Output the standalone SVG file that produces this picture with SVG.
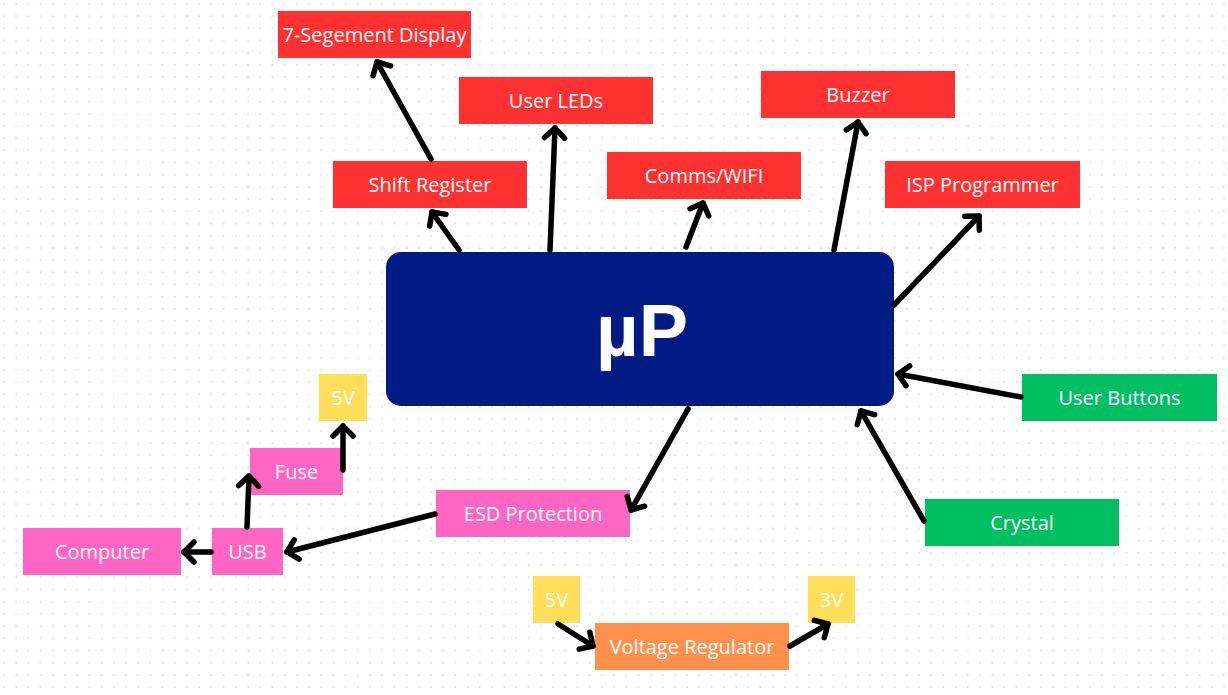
<svg xmlns="http://www.w3.org/2000/svg" width="1228" height="695" viewBox="0 0 1228 695">
<defs>
<pattern id="dots" width="12.2" height="12.2" patternUnits="userSpaceOnUse" x="3" y="3">
<circle cx="1" cy="1" r="0.9" fill="#dcdcdc"/>
</pattern>
<marker id="ah" markerUnits="userSpaceOnUse" markerWidth="30" markerHeight="30" viewBox="-15 -15 30 30" refX="0" refY="0" orient="auto" overflow="visible">
<path d="M-10,-10 L0,0 L-10,10" fill="none" stroke="#000" stroke-width="5.5" stroke-linecap="round" stroke-linejoin="round"/>
</marker>
<style>
.lbl{font-family:"Open Sans","Liberation Sans",sans-serif;font-size:20px;fill:#fff;text-anchor:middle;dominant-baseline:central}
.red{fill:#ff3131}.pink{fill:#ff66c4}.green{fill:#00bf63}.yel{fill:#ffde59}.org{fill:#ff914d}
.c{fill:none;stroke:#000;stroke-width:5.5;stroke-linecap:round;marker-end:url(#ah)}
</style>
</defs>
<rect width="1228" height="695" fill="#fff"/>
<rect width="1228" height="695" fill="url(#dots)"/>

<g id="up"><rect x="386" y="252" width="508" height="154" rx="15" fill="#001b84"/><text x="642" y="330" font-family="'Liberation Sans',Arial,sans-serif" font-weight="bold" font-size="74" fill="#fff" text-anchor="middle" dominant-baseline="central">µP</text></g>
<g id="seg"><rect class="red" x="278" y="11" width="193" height="47"/><text class="lbl" x="374.5" y="34.5">7-Segement Display</text></g>
<g id="shift"><rect class="red" x="333" y="161" width="194" height="47"/><text class="lbl" x="430" y="184.5">Shift Register</text></g>
<g id="leds"><rect class="red" x="459" y="77" width="194" height="47"/><text class="lbl" x="556" y="100.5">User LEDs</text></g>
<g id="comms"><rect class="red" x="607" y="152" width="194" height="47"/><text class="lbl" x="704" y="175.5">Comms/WIFI</text></g>
<g id="buzzer"><rect class="red" x="761" y="71" width="194" height="47"/><text class="lbl" x="858" y="94.5">Buzzer</text></g>
<g id="isp"><rect class="red" x="885" y="161" width="195" height="47"/><text class="lbl" x="982.5" y="184.5">ISP Programmer</text></g>
<g id="buttons"><rect class="green" x="1022" y="374" width="195" height="47"/><text class="lbl" x="1119.5" y="397.5">User Buttons</text></g>
<g id="crystal"><rect class="green" x="925" y="499" width="194" height="47"/><text class="lbl" x="1022" y="522.5">Crystal</text></g>
<g id="esd"><rect class="pink" x="436" y="490" width="194" height="47"/><text class="lbl" x="533" y="513.5">ESD Protection</text></g>
<g id="usb"><rect class="pink" x="212" y="528" width="71" height="47"/><text class="lbl" x="247.5" y="551.5">USB</text></g>
<g id="computer"><rect class="pink" x="23" y="528" width="158" height="47"/><text class="lbl" x="102" y="551.5">Computer</text></g>
<g id="fuse"><rect class="pink" x="250" y="448" width="93" height="47"/><text class="lbl" x="296.5" y="471.5">Fuse</text></g>
<g id="v5a"><rect class="yel" x="319" y="374" width="48" height="47"/><text class="lbl" x="343" y="397.5">5V</text></g>
<g id="v5b"><rect class="yel" x="533" y="576" width="47" height="47"/><text class="lbl" x="556.5" y="599.5">5V</text></g>
<g id="v3"><rect class="yel" x="808" y="576" width="47" height="47"/><text class="lbl" x="831.5" y="599.5">3V</text></g>
<g id="vreg"><rect class="org" x="595" y="623" width="194" height="47"/><text class="lbl" x="692" y="646.5">Voltage Regulator</text></g>

<g id="connectors">
<line class="c" x1="431" y1="159" x2="377" y2="62"/>
<line class="c" x1="459" y1="250" x2="432" y2="212"/>
<line class="c" x1="550" y1="250" x2="555" y2="128"/>
<line class="c" x1="686" y1="247" x2="703" y2="203"/>
<line class="c" x1="834" y1="250" x2="858" y2="122"/>
<line class="c" x1="894" y1="305" x2="979" y2="216"/>
<line class="c" x1="1021" y1="397" x2="898" y2="374"/>
<line class="c" x1="924" y1="521" x2="861" y2="411"/>
<line class="c" x1="688" y1="409" x2="631" y2="510"/>
<line class="c" x1="435" y1="514" x2="287" y2="552"/>
<line class="c" x1="211" y1="552" x2="184" y2="552"/>
<line class="c" x1="247" y1="527" x2="249" y2="476"/>
<line class="c" x1="343" y1="470" x2="343" y2="426"/>
<line class="c" x1="558" y1="624" x2="593" y2="646"/>
<line class="c" x1="790" y1="646" x2="828" y2="624"/>
</g>
</svg>
